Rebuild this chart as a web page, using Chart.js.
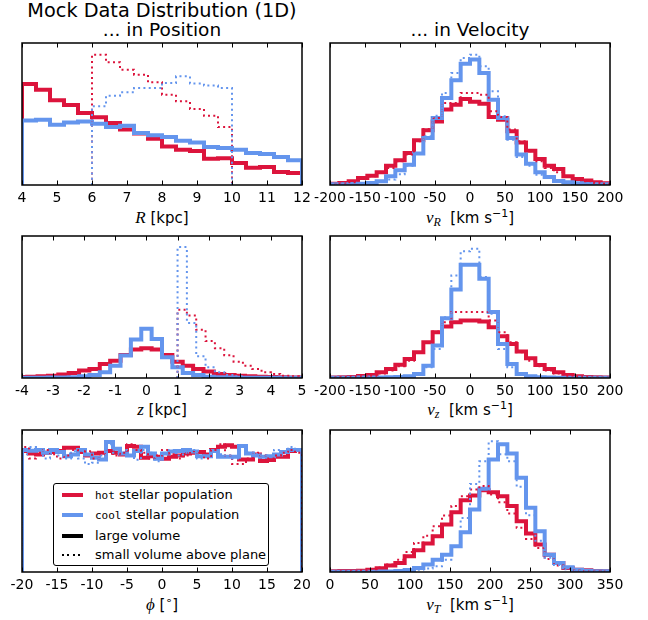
<!DOCTYPE html>
<html>
  <head>
    <meta charset="utf-8">
    <title>Mock Data Distribution (1D)</title>
    <script src="https://cdn.jsdelivr.net/npm/chart.js"></script>
    <style>
      body {
        margin: 0;
        background: #fff;
        font-family: 'DejaVu Sans', sans-serif;
        color: #000;
      }
      #figure {
        position: relative;
        width: 648px;
        height: 620px;
        overflow: hidden;
      }
      #figure canvas { position: absolute; }
      .txt {
        position: absolute;
        text-align: center;
        white-space: nowrap;
      }
      .title { font-size: 18.5px; line-height: 20px; }
      .title.main { font-size: 19.3px; }
      .xlabel { font-size: 15px; line-height: 20px; }
      .m { font-family: 'Liberation Serif', serif; font-style: italic; font-size: 17px; }
      .xlabel sub { font-size: 12px; vertical-align: -3px; line-height: 0; }
      .xlabel sup { font-size: 11px; vertical-align: 6px; line-height: 0; }
      #legend {
        position: absolute;
        left: 53px;
        top: 483px;
        width: 216px;
        height: 83px;
        box-sizing: border-box;
        border: 1px solid #000;
        border-radius: 3px;
        background: #fff;
        z-index: 5;
        font-size: 13px;
      }
      .legend-row {
        position: absolute;
        left: 0;
        height: 20px;
        line-height: 20px;
        white-space: nowrap;
      }
      .legend-line {
        position: absolute;
        left: 8px;
        width: 21px;
      }
      .legend-text { position: absolute; left: 41px; }
      .mono { font-family: 'DejaVu Sans Mono', monospace; font-size: 11px; }
    </style>
  </head>
  <body>
    <div id="figure">
      <div class="txt title main" style="left:22px; width:280px; top:1px">Mock Data Distribution (1D)</div>
      <div class="txt title" style="left:22px; width:280px; top:20px">... in Position</div>
      <div class="txt title" style="left:330px; width:280px; top:20px">... in Velocity</div>

      <div class="txt xlabel" style="left:22px; width:280px; top:208px"><span class="m">R</span> [kpc]</div>
      <div class="txt xlabel" style="left:330px; width:280px; top:208px"><span class="m">v</span><sub class="m">R</sub>&nbsp; [km s<sup>−1</sup>]</div>
      <div class="txt xlabel" style="left:22px; width:280px; top:400px"><span class="m">z</span> [kpc]</div>
      <div class="txt xlabel" style="left:330px; width:280px; top:400px"><span class="m">v</span><sub class="m">z</sub>&nbsp; [km s<sup>−1</sup>]</div>
      <div class="txt xlabel" style="left:22px; width:280px; top:595px"><span class="m">ϕ</span> [<sup>∘</sup>]</div>
      <div class="txt xlabel" style="left:330px; width:280px; top:595px"><span class="m">v</span><sub class="m">T</sub>&nbsp; [km s<sup>−1</sup>]</div>

      <div id="legend"></div>
    </div>
    <script>
      // --- colours ---
      const HOT = '#dc143c';
      const COOL = '#6495ed';

      // --- histogram heights (percent of panel height) ---
      // R [kpc]: large volume 4..12 in 0.4 bins, small volume 6..10 in 0.4 bins
      const rHotLarge = [71.1, 67.1, 59.6, 56.3, 50.7, 47.7, 43.7, 39.0, 36.2, 32.6, 27.2, 24.9, 23.9, 18.5, 18.8, 15.5, 12.2, 12.7, 9.2, 8.5];
      const rCoolLarge = [45.5, 46.0, 42.5, 44.1, 44.8, 43.2, 40.8, 41.8, 36.6, 35.0, 33.8, 31.2, 30.0, 26.8, 26.1, 24.9, 22.5, 21.8, 19.7, 17.4];
      const rHotSmall = [91.8, 86.4, 81.2, 77.7, 72.3, 63.6, 58.9, 53.5, 48.8, 40.8];
      const rCoolSmall = [55.4, 62.9, 65.3, 68.3, 68.3, 71.8, 76.5, 71.4, 70.0, 68.3];

      // v_R [km/s]: -200..200, 30 bins
      const vRHotLarge = [0.9, 1.4, 2.6, 4.9, 6.6, 8.9, 13.6, 17.4, 22.5, 31.5, 38.5, 44.8, 53.1, 56.6, 60.6, 58.7, 57.3, 47.9, 46.0, 37.8, 30.0, 24.2, 18.3, 13.6, 11.3, 6.1, 4.2, 3.1, 1.9, 1.2];
      const vRCoolLarge = [0.5, 0.5, 0.7, 0.9, 1.4, 2.6, 6.1, 10.3, 14.3, 22.1, 33.1, 47.2, 61.3, 73.7, 85.4, 88.3, 78.9, 60.1, 47.2, 33.1, 21.4, 15.0, 8.9, 5.6, 2.8, 1.9, 1.2, 0.7, 0.5, 0.5];
      const vRHotSmall = [0.5, 1.0, 2.0, 4.2, 6.1, 8.5, 12.0, 16.7, 21.4, 30.8, 39.4, 47.2, 57.7, 57.7, 64.8, 64.8, 63.6, 51.9, 47.9, 39.0, 30.8, 23.7, 16.7, 12.0, 8.9, 5.6, 3.8, 2.6, 1.4, 0.9];
      const vRCoolSmall = [0.3, 0.4, 0.6, 0.9, 1.5, 2.4, 3.8, 7.5, 13.5, 22.5, 34.3, 48.8, 64.8, 78.9, 89.4, 91.8, 83.6, 66.0, 48.4, 31.9, 19.7, 13.6, 7.3, 4.9, 2.6, 1.5, 1.0, 0.6, 0.4, 0.3];

      // z [kpc]: large volume from -4.5 in 1/3 bins, small volume from 1.0 in 0.3 bins
      const zHotLarge = [0.5, 0.7, 0.9, 1.2, 1.6, 2.4, 3.5, 5.2, 6.4, 9.9, 12.2, 16.2, 20.0, 20.9, 20.0, 16.2, 11.5, 8.7, 6.4, 4.5, 2.8, 2.1, 1.6, 1.2, 0.9, 0.7, 0.5, 0.3, 0.3, 0.3];
      const zCoolLarge = [0.2, 0.2, 0.2, 0.2, 0.3, 0.3, 0.5, 1.2, 2.1, 4.0, 8.7, 15.8, 27.1, 34.6, 27.5, 14.6, 7.5, 3.5, 2.1, 0.9, 0.5, 0.3, 0.2, 0.2, 0.2, 0.2, 0.2, 0.2, 0.2, 0.2];
      const zHotSmall = [48.0, 44.0, 34.0, 26.0, 21.0, 16.0, 11.5, 8.7, 6.4, 4.0, 2.8, 1.6, 1.2, 0.9];
      const zCoolSmall = [92.2, 38.8, 15.3, 7.5, 4.0, 2.1, 1.2, 0.5, 0.3, 0.2, 0.2, 0.1, 0.1, 0.1];

      // v_z [km/s]: -200..200, 30 bins
      const vzHotLarge = [0.3, 0.5, 0.7, 1.4, 2.1, 4.0, 6.4, 9.4, 13.4, 18.1, 25.2, 32.2, 36.2, 39.3, 40.5, 40.5, 39.8, 35.8, 29.4, 24.0, 18.6, 13.9, 9.2, 6.4, 4.0, 2.1, 1.2, 0.7, 0.5, 0.3];
      const vzCoolLarge = [0.2, 0.2, 0.2, 0.3, 0.3, 0.4, 0.5, 0.7, 1.2, 2.8, 8.7, 22.8, 42.1, 62.4, 79.8, 79.8, 69.9, 46.4, 24.0, 9.9, 2.8, 1.2, 0.5, 0.3, 0.2, 0.2, 0.2, 0.2, 0.2, 0.2];
      const vzHotSmall = [0.5, 0.7, 1.0, 1.2, 1.6, 3.1, 5.2, 8.2, 12.2, 17.6, 25.2, 32.7, 39.3, 46.4, 46.4, 46.4, 46.4, 40.5, 32.2, 25.2, 18.1, 12.2, 8.2, 5.2, 3.1, 1.6, 1.0, 0.7, 0.5, 0.4];
      const vzCoolSmall = [0.2, 0.2, 0.3, 0.3, 0.4, 0.5, 0.5, 0.8, 1.2, 2.8, 7.5, 20.5, 42.8, 72.2, 89.2, 91.1, 71.1, 45.2, 20.5, 7.5, 2.8, 1.2, 0.5, 0.4, 0.3, 0.2, 0.2, 0.2, 0.2, 0.2];

      // phi [deg]: -20..20, 1 degree bins
      const phiHotLarge = [85.2, 83.5, 82.8, 84.0, 84.5, 85.2, 87.5, 87.5, 84.5, 82.1, 83.5, 84.0, 85.2, 84.0, 82.8, 88.7, 88.2, 80.5, 81.6, 81.2, 79.8, 81.2, 82.1, 83.5, 84.0, 84.5, 82.8, 85.9, 88.2, 89.2, 88.2, 79.3, 79.3, 82.8, 78.1, 78.8, 81.2, 81.2, 85.2, 85.9];
      const phiCoolLarge = [85.9, 85.4, 85.9, 84.0, 85.9, 84.5, 81.6, 82.8, 85.9, 82.8, 80.5, 79.3, 91.5, 86.8, 83.5, 82.1, 85.2, 88.2, 83.5, 79.8, 83.5, 84.9, 85.2, 85.9, 84.9, 81.6, 81.6, 85.2, 81.2, 81.2, 81.2, 88.7, 83.5, 82.1, 81.2, 81.6, 82.8, 84.5, 85.9, 85.9];
      const phiHotSmall = [88, 80, 84, 86, 83, 80, 82, 86, 84, 85, 80, 83, 86, 82, 84, 90, 86, 84, 80, 82, 86, 83, 80, 82, 85, 84, 80, 86, 90, 82, 76, 76, 80, 84, 82, 80, 82, 84, 86, 84];
      const phiCoolSmall = [83, 88, 86, 80, 84, 82, 80, 85, 80, 76, 77, 82, 90, 84, 86, 82, 79, 86, 84, 78, 83, 86, 82, 84, 86, 80, 82, 84, 83, 82, 80, 86, 84, 83, 82, 81, 86, 84, 88, 86];

      // v_T [km/s]: 0..350, 30 bins
      const vTHotLarge = [0.5, 0.7, 0.7, 0.9, 1.6, 2.6, 4.5, 6.4, 11.1, 15.3, 20.0, 25.2, 33.4, 42.1, 50.6, 53.9, 57.6, 56.2, 53.4, 46.4, 35.8, 27.1, 19.3, 12.2, 6.4, 2.8, 1.6, 1.2, 0.7, 0.5];
      const vTCoolLarge = [0.2, 0.2, 0.2, 0.2, 0.2, 0.3, 0.4, 0.7, 1.4, 2.8, 5.2, 8.7, 12.2, 18.1, 28.0, 44.0, 58.6, 79.3, 89.9, 83.5, 66.4, 45.2, 28.7, 12.2, 6.4, 3.3, 1.6, 0.9, 0.5, 0.5];
      const vTHotSmall = [0.3, 0.5, 0.7, 1.2, 2.0, 3.1, 5.2, 8.7, 14.0, 20.5, 25.6, 32.2, 39.8, 46.4, 53.4, 58.1, 60.5, 54.6, 49.2, 41.2, 31.1, 23.3, 16.9, 9.2, 4.5, 2.1, 1.2, 0.7, 0.5, 0.3];
      const vTCoolSmall = [0.2, 0.2, 0.2, 0.2, 0.2, 0.3, 0.4, 0.6, 1.0, 1.6, 2.5, 4.0, 8.7, 18.0, 38.0, 62.0, 78.0, 92.0, 83.0, 78.0, 60.0, 40.0, 22.0, 10.0, 5.0, 2.0, 1.0, 0.6, 0.4, 0.3];

      // --- panels: axis range, tick step and bins (start, width) per series ---
      const PANELS = [
        { left: 22, top: 43, min: 4, max: 12, step: 1, large: [4, 0.4, rHotLarge, rCoolLarge], small: [6, 0.4, rHotSmall, rCoolSmall] },
        { left: 330, top: 43, min: -200, max: 200, step: 50, large: [-200, 40 / 3, vRHotLarge, vRCoolLarge], small: [-200, 40 / 3, vRHotSmall, vRCoolSmall] },
        { left: 22, top: 236, min: -4, max: 5, step: 1, large: [-4.5, 1 / 3, zHotLarge, zCoolLarge], small: [1, 0.3, zHotSmall, zCoolSmall] },
        { left: 330, top: 236, min: -200, max: 200, step: 50, large: [-200, 40 / 3, vzHotLarge, vzCoolLarge], small: [-200, 40 / 3, vzHotSmall, vzCoolSmall] },
        { left: 22, top: 430, min: -20, max: 20, step: 5, large: [-20, 1, phiHotLarge, phiCoolLarge], small: [-20, 1, phiHotSmall, phiCoolSmall] },
        { left: 330, top: 430, min: 0, max: 350, step: 50, large: [0, 35 / 3, vTHotLarge, vTCoolLarge], small: [0, 35 / 3, vTHotSmall, vTCoolSmall] }
      ];
      const PW = 280, PH = 142;
      const PAD = { left: 22, right: 22, top: 6, bottom: 4 };
      const AXIS_H = 20;

      // step outline like matplotlib histtype='step' (closed down to zero at both ends)
      function stepPoints(start, width, counts) {
        const n = counts.length;
        const pts = [{ x: start, y: 0 }];
        counts.forEach((c, i) => pts.push({ x: start + i * width, y: c }));
        pts.push({ x: start + n * width, y: counts[n - 1] });
        pts.push({ x: start + n * width, y: 0 });
        return pts;
      }

      function histDataset(start, width, counts, color, dotted, order) {
        return {
          data: stepPoints(start, width, counts),
          stepped: true,
          borderColor: color,
          borderWidth: dotted ? 2 : 4,
          borderDash: dotted ? [2, 3.3] : [],
          pointRadius: 0,
          fill: false,
          clip: 0,
          order: order
        };
      }

      // frame + inward ticks on top and bottom
      const framePlugin = {
        id: 'frame',
        afterDatasetsDraw(chart) {
          const { ctx, chartArea: a } = chart;
          const x = chart.scales.x;
          ctx.save();
          ctx.strokeStyle = '#000';
          ctx.lineWidth = 1;
          ctx.beginPath();
          x.ticks.forEach(t => {
            const px = Math.round(x.getPixelForValue(t.value)) + 0.5;
            ctx.moveTo(px, a.top);
            ctx.lineTo(px, a.top + 4.5);
            ctx.moveTo(px, a.bottom);
            ctx.lineTo(px, a.bottom - 4.5);
          });
          ctx.stroke();
          ctx.lineWidth = 1.5;
          ctx.strokeRect(a.left, a.top, a.width, a.height);
          ctx.restore();
        }
      };

      Chart.defaults.font.family = "'DejaVu Sans', sans-serif";
      Chart.defaults.color = '#000';

      const fig = document.getElementById('figure');
      PANELS.forEach(p => {
        const canvas = document.createElement('canvas');
        canvas.width = PW + PAD.left + PAD.right;
        canvas.height = PH + PAD.top + PAD.bottom + AXIS_H;
        canvas.style.left = (p.left - PAD.left) + 'px';
        canvas.style.top = (p.top - PAD.top) + 'px';
        fig.appendChild(canvas);

        const [ls, lw, hotL, coolL] = p.large;
        const [ss, sw, hotS, coolS] = p.small;
        new Chart(canvas, {
          type: 'line',
          data: {
            datasets: [
              histDataset(ls, lw, hotL, HOT, false, 4),
              histDataset(ls, lw, coolL, COOL, false, 3),
              histDataset(ss, sw, hotS, HOT, true, 2),
              histDataset(ss, sw, coolS, COOL, true, 1)
            ]
          },
          options: {
            responsive: false,
            animation: false,
            events: [],
            layout: { padding: PAD },
            plugins: { legend: { display: false }, tooltip: { enabled: false } },
            scales: {
              x: {
                type: 'linear',
                min: p.min,
                max: p.max,
                grid: { display: false, drawTicks: false },
                border: { display: false },
                ticks: { stepSize: p.step, autoSkip: false, maxRotation: 0, padding: 5, font: { size: 14 } },
                afterFit: scale => { scale.height = AXIS_H; }
              },
              y: { display: false, min: 0, max: 100 }
            }
          },
          plugins: [framePlugin]
        });
      });

      // --- legend ---
      const LEGEND = [
        { mono: 'hot', text: ' stellar population', color: HOT, dotted: false },
        { mono: 'cool', text: ' stellar population', color: COOL, dotted: false },
        { mono: '', text: 'large volume', color: '#000', dotted: false },
        { mono: '', text: 'small volume above plane', color: '#000', dotted: true }
      ];
      const ROW_TOPS = [1, 21, 42, 61];
      const legendDiv = document.getElementById('legend');
      LEGEND.forEach((item, i) => {
        const row = document.createElement('div');
        row.className = 'legend-row';
        row.style.top = ROW_TOPS[i] + 'px';
        const line = document.createElement('span');
        line.className = 'legend-line';
        if (item.dotted) {
          line.style.top = '9px';
          line.style.height = '2px';
          line.style.background = `repeating-linear-gradient(90deg, ${item.color} 0 2px, transparent 2px 5.3px)`;
        } else {
          line.style.top = '8px';
          line.style.height = '4px';
          line.style.background = item.color;
        }
        row.appendChild(line);
        const text = document.createElement('span');
        text.className = 'legend-text';
        if (item.mono) {
          const m = document.createElement('span');
          m.className = 'mono';
          m.textContent = item.mono;
          text.appendChild(m);
        }
        text.appendChild(document.createTextNode(item.text));
        row.appendChild(text);
        legendDiv.appendChild(row);
      });
    </script>
  </body>
</html>
